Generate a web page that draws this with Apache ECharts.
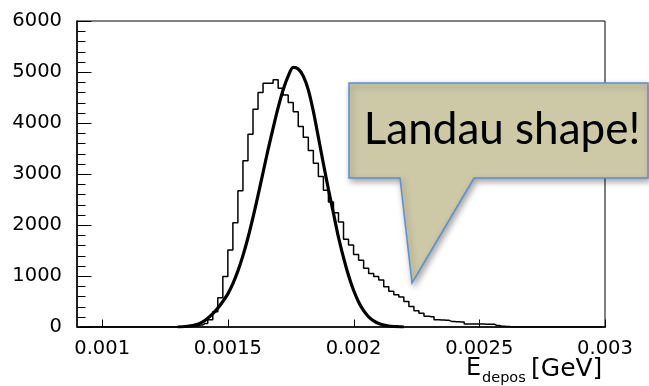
<!DOCTYPE html>
<html>
<head>
<meta charset="utf-8">
<script src="https://cdn.jsdelivr.net/npm/echarts@6/dist/echarts.min.js"></script>
<style>
  html, body { margin: 0; padding: 0; background: #fff; }
  #chart { width: 649px; height: 386px; }
</style>
</head>
<body>
<div id="chart"></div>
<script>
// Deposited energy histogram: fixed-width bins starting at binStart (GeV)
const binStart = 0.0009;
const binWidth = 0.00002;
const histCounts = [
  0, 0, 0, 0, 0, 0, 0, 0, 0, 0,
  0, 0, 0, 0, 0, 0, 0, 0, 0, 0,
  5, 8, 12, 20, 40, 70, 140, 300, 575, 990,
  1510, 2045, 2670, 3260, 3780, 4270, 4600, 4780, 4780, 4850,
  4680, 4550, 4400, 4220, 3930, 3720, 3460, 3210, 2950, 2680,
  2450, 2240, 2060, 1720, 1610, 1420, 1310, 1150, 1050, 990,
  920, 790, 700, 630, 590, 500, 400, 320, 270, 210,
  200, 140, 135, 130, 110, 105, 100, 60, 60, 58,
  58, 55, 55, 30, 15, 8, 0, 0, 0, 0,
  0, 0, 0, 0, 0, 0, 0, 0, 0, 0,
  0, 0, 0, 0, 0
];

// Fitted curve, sampled along E (GeV)
const fitE = [
  0.00130, 0.00132, 0.00134, 0.00136, 0.00138, 0.00140, 0.00142, 0.00144,
  0.00146, 0.00148, 0.00150, 0.00152, 0.00154, 0.00156, 0.00158, 0.00160,
  0.00162, 0.00164, 0.00166, 0.00168, 0.00170, 0.00172, 0.00174, 0.00176,
  0.00178, 0.00180, 0.00182, 0.00184, 0.00186, 0.00188, 0.00190, 0.00192,
  0.00194, 0.00196, 0.00198, 0.00200, 0.00202, 0.00204, 0.00206, 0.00208,
  0.00210, 0.00212, 0.00214, 0.00216, 0.00218, 0.00220
];
const fitValues = [
  0, 5, 15, 30, 55, 100, 170, 260,
  370, 500, 650, 850, 1100, 1400, 1750, 2150,
  2580, 3030, 3480, 3900, 4300, 4650, 4920, 5090,
  5060, 4920, 4650, 4230, 3720, 3200, 2700, 2230,
  1760, 1360, 1010, 720, 490, 320, 200, 120,
  70, 40, 20, 10, 5, 0
];

// Axis ticks and labels
const xTickValues = [0.001, 0.0015, 0.002, 0.0025, 0.003];
const xTickLabels = ['0.001', '0.0015', '0.002', '0.0025', '0.003'];
const yTickValues = [0, 1000, 2000, 3000, 4000, 5000, 6000];
const yTickLabels = ['0', '1000', '2000', '3000', '4000', '5000', '6000'];
const yMinorTickValues = [
  200, 400, 600, 800, 1200, 1400, 1600, 1800, 2200, 2400, 2600, 2800,
  3200, 3400, 3600, 3800, 4200, 4400, 4600, 4800, 5200, 5400, 5600, 5800
];

const histData = histCounts.map((c, i) => [binStart + (i + 0.5) * binWidth, c]);
const fitData = fitE.map((e, i) => [e, fitValues[i]]);

// Inward tick marks: [x, y, length, direction] (0 = from the y axis, 1 = from the x axis)
const Y_MAJOR_LEN = 14, Y_MINOR_LEN = 8, X_MAJOR_LEN = 8;
const tickMarks = []
  .concat(yTickValues.map(v => [binStart, v, Y_MAJOR_LEN, 0]))
  .concat(yMinorTickValues.map(v => [binStart, v, Y_MINOR_LEN, 0]))
  .concat(xTickValues.map(v => [v, 0, X_MAJOR_LEN, 1]));

function renderTick(params, api) {
  const p = api.coord([api.value(0), api.value(1)]);
  const len = api.value(2);
  const horizontal = api.value(3) === 0;
  const x0 = Math.round(p[0]) + 0.5;
  const y0 = Math.round(p[1]) + 0.5;
  return {
    type: 'line',
    shape: horizontal
      ? { x1: x0, y1: y0, x2: x0 + len, y2: y0 }
      : { x1: x0, y1: y0, x2: x0, y2: y0 - len },
    style: { stroke: '#000', lineWidth: 1 },
    silent: true
  };
}

const axisFont = 'DejaVu Sans';
const chart = echarts.init(document.getElementById('chart'));

chart.setOption({
  animation: false,
  backgroundColor: '#ffffff',
  grid: {
    left: 77, right: 44, top: 21, bottom: 59,
    show: true, borderColor: '#000', borderWidth: 1,
    backgroundColor: 'transparent',
    outerBoundsMode: 'none'
  },
  xAxis: {
    type: 'value',
    min: binStart,
    max: 0.003,
    axisLine: { show: true, onZero: false, lineStyle: { color: '#000', width: 1.5 } },
    axisTick: { show: false },
    minorTick: { show: false },
    splitLine: { show: false },
    axisLabel: {
      customValues: xTickValues,
      margin: 12,
      color: '#000',
      fontFamily: axisFont,
      fontSize: 19.5,
      formatter: function (v) {
        let best = 0;
        xTickValues.forEach((t, i) => {
          if (Math.abs(t - v) < Math.abs(xTickValues[best] - v)) best = i;
        });
        return xTickLabels[best];
      }
    }
  },
  yAxis: {
    type: 'value',
    min: 0,
    max: 6000,
    interval: 1000,
    axisLine: { show: true, onZero: false, lineStyle: { color: '#000', width: 1.5 } },
    axisTick: { show: false },
    minorTick: { show: false },
    splitLine: { show: false },
    axisLabel: {
      margin: 15,
      color: '#000',
      fontFamily: axisFont,
      fontSize: 19.5,
      formatter: function (v) { return yTickLabels[Math.round(v / 1000)]; }
    }
  },
  series: [
    {
      name: 'histogram',
      type: 'line',
      step: 'middle',
      data: histData,
      showSymbol: false,
      lineStyle: { color: '#000', width: 1.5 }
    },
    {
      name: 'fit',
      type: 'line',
      smooth: 0.3,
      data: fitData,
      showSymbol: false,
      lineStyle: { color: '#000', width: 3.2 }
    },
    {
      name: 'ticks',
      type: 'custom',
      dimensions: ['x', 'y', 'len', 'dir'],
      encode: { x: 0, y: 1 },
      data: tickMarks,
      renderItem: renderTick,
      silent: true,
      clip: false
    }
  ],
  graphic: [
    // axis title: E_depos[GeV]
    { type: 'text', left: 466, top: 357, z: 50,
      style: { text: 'E', font: '24px "DejaVu Sans"', fill: '#000' } },
    { type: 'text', left: 482, top: 371, z: 50,
      style: { text: 'depos', font: '14.5px "DejaVu Sans"', fill: '#000' } },
    { type: 'text', left: 531, top: 357, z: 50,
      style: { text: '[GeV]', font: '25px "DejaVu Sans"', fill: '#000' } },
    // speech-bubble callout
    {
      type: 'polygon', z: 100,
      shape: {
        points: [[349, 83], [648, 83], [648, 178], [474, 178], [412, 283], [400, 178], [349, 178]]
      },
      style: {
        fill: '#cdc8a6',
        stroke: '#5b8fd0',
        lineWidth: 1.5,
        shadowBlur: 6,
        shadowOffsetX: 2,
        shadowOffsetY: 3,
        shadowColor: 'rgba(0,0,0,0.35)'
      }
    },
    {
      type: 'text', z: 101,
      x: 502, y: 130,
      style: {
        text: 'Landau shape!',
        font: '44px Lato',
        fill: '#000',
        align: 'center',
        verticalAlign: 'middle'
      }
    }
  ]
});
</script>
</body>
</html>
